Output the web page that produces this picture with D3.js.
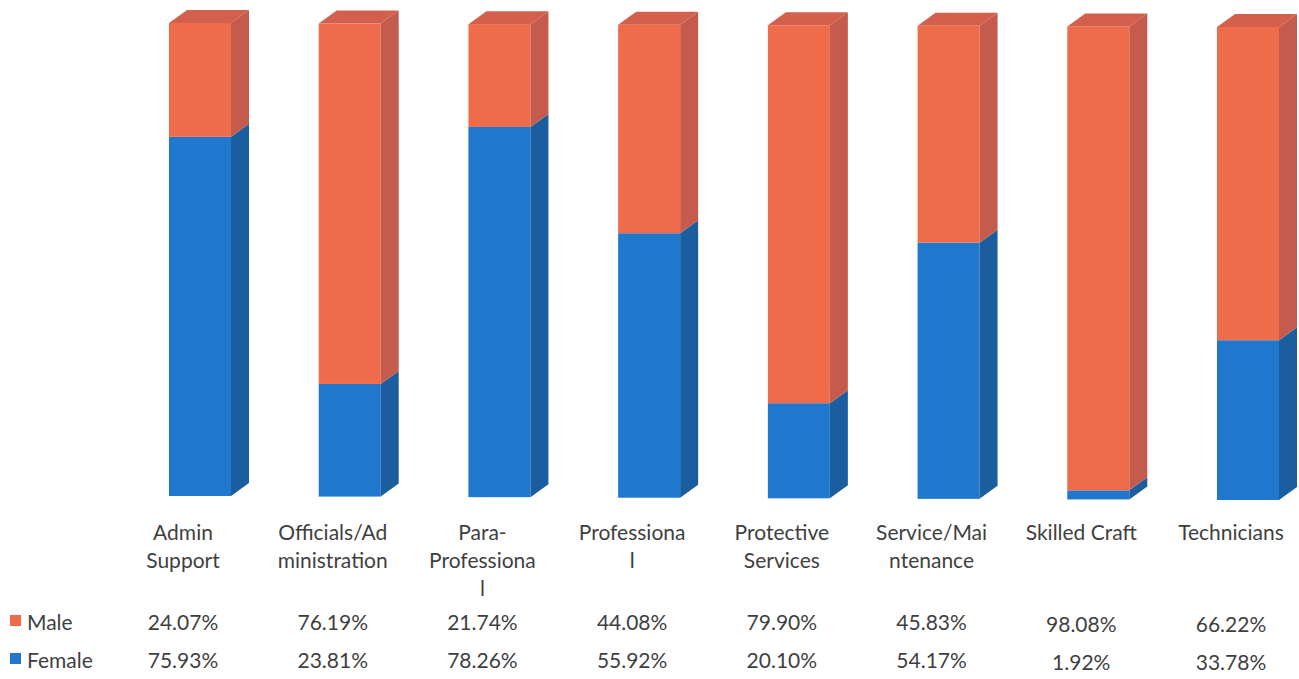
<!DOCTYPE html>
<html>
<head>
<meta charset="utf-8">
<script src="https://cdn.jsdelivr.net/npm/d3@7"></script>
<style>
  body { margin:0; background:#fff; }
  text { font-family: Lato, "Open Sans", sans-serif; fill:#3f3f3f; }
</style>
</head>
<body>
<svg id="chart" width="1299" height="679"></svg>
<script>
// data
var categories = ["Admin Support","Officials/Administration","Para-Professional","Professional",
                  "Protective Services","Service/Maintenance","Skilled Craft","Technicians"];
var catLines = [["Admin","Support"],["Officials/Ad","ministration"],["Para-","Professiona","l"],
                ["Professiona","l"],["Protective","Services"],["Service/Mai","ntenance"],
                ["Skilled Craft"],["Technicians"]];
var male   = [24.07, 76.19, 21.74, 44.08, 79.90, 45.83, 98.08, 66.22];
var female = [75.93, 23.81, 78.26, 55.92, 20.10, 54.17, 1.92, 33.78];
var seriesNames = ["Male","Female"];

var colors = {
    Male:   {front:"#ee6c4a", side:"#c55b4c", top:"#d3604c"},
    Female: {front:"#1f78cd", side:"#1b5e9f", top:"#2a6cb0"}
};

var svg = d3.select("#chart");
var barW = 62, dx = 18, dy = -13;
var labelShift = -17;   // table columns sit left of the bar fronts

var x = d3.scalePoint().domain(categories).range([200, 1248]);
var y = d3.scaleLinear().domain([0,100]).range([496, 23]);
// slight perspective drift of the floor from left to right
var drift = d3.scaleLinear().domain([0, categories.length-1]).range([0, 4]);

function poly(pts){ return pts.map(function(p){ return p.join(","); }).join(" "); }

var g = svg.append("g");
categories.forEach(function(c, i){
    var x0 = x(c) - barW/2, x1 = x0 + barW;
    var off = drift(i);
    var stack = [{name:"Female", lo:0, hi:female[i]},
                 {name:"Male", lo:female[i], hi:female[i]+male[i]}];
    stack.forEach(function(s, k){
        var yt = y(s.hi) + off, yb = y(s.lo) + off;
        var col = colors[s.name];
        g.append("rect").attr("x", x0).attr("y", yt)
            .attr("width", barW).attr("height", yb-yt).attr("fill", col.front);
        g.append("polygon").attr("points", poly([[x1,yt],[x1+dx,yt+dy],[x1+dx,yb+dy],[x1,yb]]))
            .attr("fill", col.side);
        if(k == stack.length-1){
            g.append("polygon").attr("points", poly([[x0,yt],[x0+dx,yt+dy],[x1+dx,yt+dy],[x1,yt]]))
                .attr("fill", col.top);
        }
    });
});

// data table
var lineH = 28;
categories.forEach(function(c, i){
    var cx = x(c) + labelShift;
    var t = svg.append("text").attr("x", cx).attr("y", 540)
        .attr("text-anchor","middle").style("font-size","21px");
    catLines[i].forEach(function(l, j){
        t.append("tspan").attr("x", cx).attr("y", 540 + j*lineH).text(l);
    });
});

var rows = [{name:"Male", vals:male, y:630}, {name:"Female", vals:female, y:668}];
rows.forEach(function(r){
    svg.append("rect").attr("x", 10).attr("y", r.y-15).attr("width", 11).attr("height", 11)
        .attr("fill", colors[r.name].front);
    svg.append("text").attr("x", 27).attr("y", r.y).style("font-size","21px").text(r.name);
    r.vals.forEach(function(v, i){
        svg.append("text").attr("x", x(categories[i]) + labelShift).attr("y", r.y + (i>=6 ? 2 : 0))
            .attr("text-anchor","middle").style("font-size","21px")
            .text(v.toFixed(2) + "%");
    });
});
</script>
</body>
</html>
